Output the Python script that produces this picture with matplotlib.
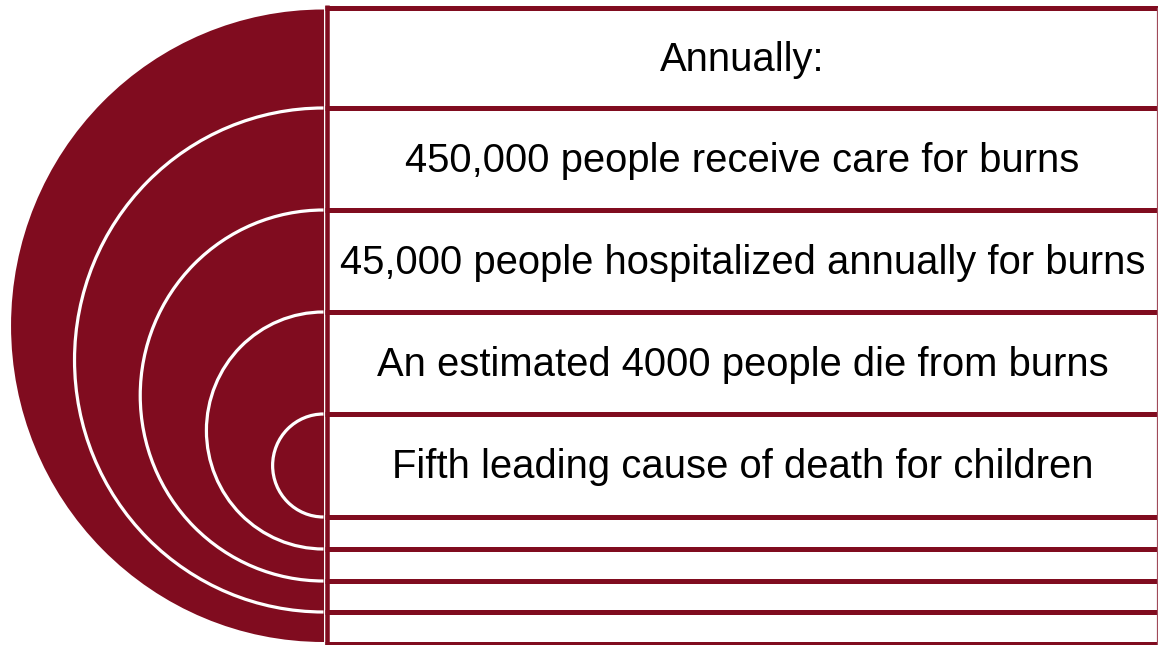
import matplotlib
matplotlib.use("Agg")
import matplotlib.pyplot as plt
from matplotlib.patches import Ellipse, Arc, Rectangle

# Text rows shown in the stacked boxes
labels = [
    "Annually:",
    "450,000 people receive care for burns",
    "45,000 people hospitalized annually for burns",
    "An estimated 4000 people die from burns",
    "Fifth leading cause of death for children",
]

# Horizontal row boundaries (pixels from the top): five text rows, then four thin rows
row_edges = [7.5, 108, 210, 312, 414, 517, 549, 581, 612, 644]

# Vertical extent of each nested half-disc, outermost first
ring_tops = [9.5, 108, 210, 312, 414]
ring_bottoms = [642, 612, 581, 549, 517]

RED = "#800C1F"
W, H = 1158, 645
cx = 323.5          # centre line of the half-discs
squash = 0.988      # horizontal / vertical radius ratio of the discs
box_left = 327.0
box_right = 1160.5

fig = plt.figure(figsize=(W / 100, H / 100), dpi=100)
ax = fig.add_axes([0, 0, 1, 1])
ax.set_xlim(0, W)
ax.set_ylim(H, 0)
ax.axis("off")

px = 72 / 100  # one pixel in points

clip = Rectangle((0, 0), cx, H, transform=ax.transData)

for k, (top, bottom) in enumerate(zip(ring_tops, ring_bottoms)):
    cy = (top + bottom) / 2
    h = bottom - top
    w = h * squash
    disc = Ellipse((cx, cy), w, h, facecolor=RED, edgecolor="none", zorder=1 + k)
    ax.add_patch(disc)
    disc.set_clip_path(clip)
    if k > 0:
        ax.add_patch(Arc((cx, cy), w, h, theta1=90, theta2=270,
                         color="white", lw=3.2 * px, zorder=1 + k))

# Box grid
for y in row_edges:
    ax.plot([box_left - 2, box_right], [y, y], color=RED, lw=5 * px,
            solid_capstyle="butt", zorder=10)
ax.plot([box_left, box_left], [row_edges[0] - 2.5, row_edges[-1] + 2.5], color=RED,
        lw=4.5 * px, solid_capstyle="butt", zorder=10)
ax.plot([W - 0.8, W - 0.8], [row_edges[0], row_edges[-1]], color="#A04A5A",
        lw=1.2 * px, zorder=10)

# Labels centred in the text rows
xc = (box_left + W) / 2
for i, text in enumerate(labels):
    yc = (row_edges[i] + row_edges[i + 1]) / 2
    ax.text(xc, yc + 13, text, ha="center", va="baseline", fontsize=28.8,
            family="Liberation Sans", color="black", zorder=11)

fig.savefig("out.png", dpi=100)
